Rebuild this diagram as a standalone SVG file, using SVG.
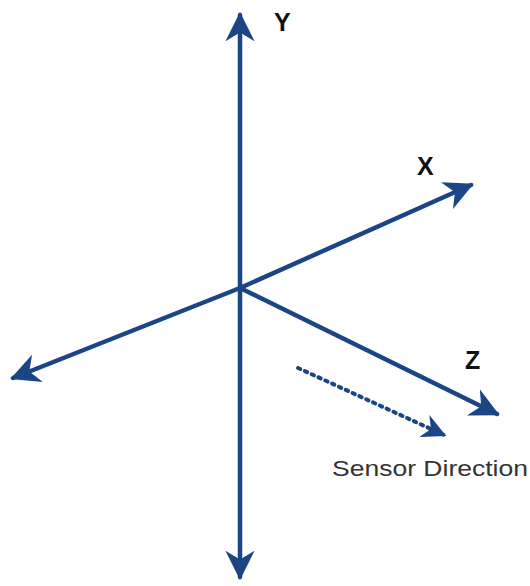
<svg xmlns="http://www.w3.org/2000/svg" width="530" height="586" viewBox="0 0 530 586">
<style>
.ax{stroke:#1c4585;stroke-width:4.5;fill:none;stroke-linecap:round}
.dot{stroke:#1c4585;stroke-width:4;fill:none;stroke-dasharray:2.5 5;stroke-linecap:round}
.lbl{font-family:"Liberation Sans",Arial,sans-serif;font-weight:bold;font-size:25px;fill:#111}
.cap{font-family:"Liberation Sans",Arial,sans-serif;font-size:22px;fill:#333}
</style>
<defs>
<marker id="ah" viewBox="0 0 10 10" refX="9" refY="5" markerWidth="6.5" markerHeight="6.5" orient="auto" markerUnits="strokeWidth">
<path d="M10,5 L0,0 L3,5 L0,10 Z" fill="#1c4585"/>
</marker>
<marker id="ahs" viewBox="0 0 10 10" refX="9" refY="5" markerWidth="6" markerHeight="6" orient="auto" markerUnits="strokeWidth">
<path d="M10,5 L0,0 L3,5 L0,10 Z" fill="#1c4585"/>
</marker>
</defs>
<rect width="530" height="586" fill="#fff"/>
<g id="connectors">
<line class="ax" x1="240" y1="288" x2="240" y2="15" marker-end="url(#ah)"/>
<line class="ax" x1="240" y1="288" x2="240" y2="577" marker-end="url(#ah)"/>
<line class="ax" x1="240" y1="288" x2="471" y2="185" marker-end="url(#ah)"/>
<line class="ax" x1="240" y1="288" x2="13" y2="378" marker-end="url(#ah)"/>
<line class="ax" x1="240" y1="288" x2="497" y2="414" marker-end="url(#ah)"/>
<line class="dot" x1="298" y1="368" x2="444" y2="435" marker-end="url(#ahs)"/>
</g>
<g id="label-y"><text class="lbl" x="274" y="31">Y</text></g>
<g id="label-x"><text class="lbl" x="417" y="175">X</text></g>
<g id="label-z"><text class="lbl" x="465" y="369">Z</text></g>
<g id="label-sensor"><text class="cap" x="332" y="476" textLength="196" lengthAdjust="spacingAndGlyphs">Sensor Direction</text></g>
</svg>
